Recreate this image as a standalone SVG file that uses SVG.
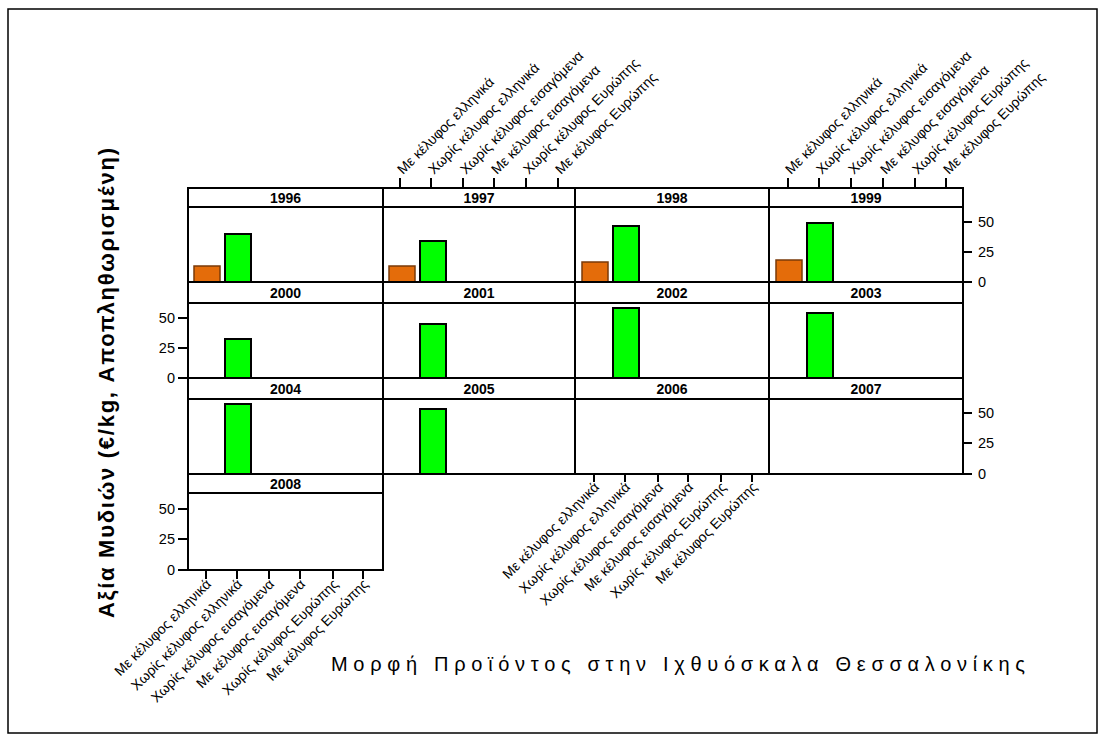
<svg xmlns="http://www.w3.org/2000/svg" width="1104" height="740" viewBox="0 0 1104 740">
<style>
text{font-family:"Liberation Sans",Arial,sans-serif;fill:#000}
.frame{fill:#fff;stroke:#000;stroke-width:1.5}
.hdr{fill:#fff;stroke:#000;stroke-width:2}
.plot{fill:#fff;stroke:#000;stroke-width:2}
.ht{font-size:14px;font-weight:bold;text-anchor:middle}
.tick{stroke:#000;stroke-width:2}
.yr{font-size:14.5px;text-anchor:start}
.yle{font-size:14.5px;text-anchor:end}
.cat{font-size:14px}
.catb{font-size:14px;text-anchor:end}
.o{fill:#E46C0A;stroke:#7a3a08;stroke-width:1.5}
.g{fill:#00FF00;stroke:#000;stroke-width:2}
.title{font-size:22px;font-weight:bold}
.xt{font-size:20px}
</style>
<rect class="frame" x="8" y="9" width="1089" height="724"/>

<g id="panel-1996">
<rect class="plot" x="188" y="207" width="195" height="75"/>
<rect class="hdr" x="188" y="188" width="195" height="19"/>
<text class="ht" x="285.5" y="203">1996</text>
<rect class="o" x="194" y="266" width="26" height="16"/>
<rect class="g" x="225" y="234" width="26" height="48"/>
</g>
<g id="panel-1997">
<rect class="plot" x="383" y="207" width="192" height="75"/>
<rect class="hdr" x="383" y="188" width="192" height="19"/>
<text class="ht" x="479" y="203">1997</text>
<rect class="o" x="389" y="266" width="26" height="16"/>
<rect class="g" x="420" y="241" width="26" height="41"/>
</g>
<g id="panel-1998">
<rect class="plot" x="575" y="207" width="194" height="75"/>
<rect class="hdr" x="575" y="188" width="194" height="19"/>
<text class="ht" x="672" y="203">1998</text>
<rect class="o" x="582" y="262" width="26" height="20"/>
<rect class="g" x="613" y="226" width="26" height="56"/>
</g>
<g id="panel-1999">
<rect class="plot" x="769" y="207" width="194" height="75"/>
<rect class="hdr" x="769" y="188" width="194" height="19"/>
<text class="ht" x="866" y="203">1999</text>
<rect class="o" x="776" y="260" width="26" height="22"/>
<rect class="g" x="807" y="223" width="26" height="59"/>
</g>

<g id="panel-2000">
<rect class="plot" x="188" y="303" width="195" height="75"/>
<rect class="hdr" x="188" y="282" width="195" height="21"/>
<text class="ht" x="285.5" y="298">2000</text>
<rect class="g" x="225" y="339" width="26" height="39"/>
</g>
<g id="panel-2001">
<rect class="plot" x="383" y="303" width="192" height="75"/>
<rect class="hdr" x="383" y="282" width="192" height="21"/>
<text class="ht" x="479" y="298">2001</text>
<rect class="g" x="420" y="324" width="26" height="54"/>
</g>
<g id="panel-2002">
<rect class="plot" x="575" y="303" width="194" height="75"/>
<rect class="hdr" x="575" y="282" width="194" height="21"/>
<text class="ht" x="672" y="298">2002</text>
<rect class="g" x="613" y="308" width="26" height="70"/>
</g>
<g id="panel-2003">
<rect class="plot" x="769" y="303" width="194" height="75"/>
<rect class="hdr" x="769" y="282" width="194" height="21"/>
<text class="ht" x="866" y="298">2003</text>
<rect class="g" x="807" y="313" width="26" height="65"/>
</g>

<g id="panel-2004">
<rect class="plot" x="188" y="399" width="195" height="75"/>
<rect class="hdr" x="188" y="378" width="195" height="21"/>
<text class="ht" x="285.5" y="394">2004</text>
<rect class="g" x="225" y="404" width="26" height="70"/>
</g>
<g id="panel-2005">
<rect class="plot" x="383" y="399" width="192" height="75"/>
<rect class="hdr" x="383" y="378" width="192" height="21"/>
<text class="ht" x="479" y="394">2005</text>
<rect class="g" x="420" y="409" width="26" height="65"/>
</g>
<g id="panel-2006">
<rect class="plot" x="575" y="399" width="194" height="75"/>
<rect class="hdr" x="575" y="378" width="194" height="21"/>
<text class="ht" x="672" y="394">2006</text>
</g>
<g id="panel-2007">
<rect class="plot" x="769" y="399" width="194" height="75"/>
<rect class="hdr" x="769" y="378" width="194" height="21"/>
<text class="ht" x="866" y="394">2007</text>
</g>

<g id="panel-2008">
<rect class="plot" x="188" y="493" width="195" height="77"/>
<rect class="hdr" x="188" y="474" width="195" height="19"/>
<text class="ht" x="285.5" y="489">2008</text>
</g>

<g id="y-axes">
<path class="tick" d="M963 222h9M963 252h9M963 282h9"/>
<text class="yr" x="978" y="227">50</text>
<text class="yr" x="978" y="257">25</text>
<text class="yr" x="978" y="287">0</text>
<path class="tick" d="M178 318h10M178 348h10M178 378h10"/>
<text class="yle" x="175" y="323">50</text>
<text class="yle" x="175" y="353">25</text>
<text class="yle" x="175" y="383">0</text>
<path class="tick" d="M963 413h9M963 443h9M963 474h9"/>
<text class="yr" x="978" y="418">50</text>
<text class="yr" x="978" y="448">25</text>
<text class="yr" x="978" y="479">0</text>
<path class="tick" d="M178 509h10M178 539h10M178 570h10"/>
<text class="yle" x="175" y="514">50</text>
<text class="yle" x="175" y="544">25</text>
<text class="yle" x="175" y="575">0</text>
</g>

<g id="x-axis-top-1997">
<path class="tick" d="M400 178v10M431 178v10M463 178v10M494 178v10M526 178v10M558 178v10"/>
<text class="cat" transform="translate(403,175) rotate(-45)">Με κέλυφος ελληνικά</text>
<text class="cat" transform="translate(434,175) rotate(-45)">Χωρίς κέλυφος ελληνικά</text>
<text class="cat" transform="translate(466,175) rotate(-45)">Χωρίς κέλυφος εισαγόμενα</text>
<text class="cat" transform="translate(497,175) rotate(-45)">Με κέλυφος εισαγόμενα</text>
<text class="cat" transform="translate(529,175) rotate(-45)">Χωρίς κέλυφος Ευρώπης</text>
<text class="cat" transform="translate(561,175) rotate(-45)">Με κέλυφος Ευρώπης</text>
</g>
<g id="x-axis-top-1999">
<path class="tick" d="M788 178v10M819 178v10M851 178v10M883 178v10M915 178v10M946 178v10"/>
<text class="cat" transform="translate(791,175) rotate(-45)">Με κέλυφος ελληνικά</text>
<text class="cat" transform="translate(822,175) rotate(-45)">Χωρίς κέλυφος ελληνικά</text>
<text class="cat" transform="translate(854,175) rotate(-45)">Χωρίς κέλυφος εισαγόμενα</text>
<text class="cat" transform="translate(886,175) rotate(-45)">Με κέλυφος εισαγόμενα</text>
<text class="cat" transform="translate(918,175) rotate(-45)">Χωρίς κέλυφος Ευρώπης</text>
<text class="cat" transform="translate(949,175) rotate(-45)">Με κέλυφος Ευρώπης</text>
</g>
<g id="x-axis-bottom-2006">
<path class="tick" d="M594 474v8M625 474v8M658 474v8M688 474v8M721 474v8M752 474v8"/>
<text class="catb" transform="translate(600,488) rotate(-45)">Με κέλυφος ελληνικά</text>
<text class="catb" transform="translate(631,488) rotate(-45)">Χωρίς κέλυφος ελληνικά</text>
<text class="catb" transform="translate(664,488) rotate(-45)">Χωρίς κέλυφος εισαγόμενα</text>
<text class="catb" transform="translate(694,488) rotate(-45)">Με κέλυφος εισαγόμενα</text>
<text class="catb" transform="translate(727,488) rotate(-45)">Χωρίς κέλυφος Ευρώπης</text>
<text class="catb" transform="translate(758,488) rotate(-45)">Με κέλυφος Ευρώπης</text>
</g>
<g id="x-axis-bottom-2008">
<path class="tick" d="M206 570v9M237 570v9M269 570v9M300 570v9M333 570v9M363 570v9"/>
<text class="catb" transform="translate(212,585) rotate(-45)">Με κέλυφος ελληνικά</text>
<text class="catb" transform="translate(243,585) rotate(-45)">Χωρίς κέλυφος ελληνικά</text>
<text class="catb" transform="translate(275,585) rotate(-45)">Χωρίς κέλυφος εισαγόμενα</text>
<text class="catb" transform="translate(306,585) rotate(-45)">Με κέλυφος εισαγόμενα</text>
<text class="catb" transform="translate(339,585) rotate(-45)">Χωρίς κέλυφος Ευρώπης</text>
<text class="catb" transform="translate(369,585) rotate(-45)">Με κέλυφος Ευρώπης</text>
</g>

<text class="title" transform="translate(114,618) rotate(-90)" textLength="470" lengthAdjust="spacing">Αξία Μυδιών (€/kg, Αποπληθωρισμένη)</text>
<text class="xt" x="331" y="671" textLength="694" lengthAdjust="spacing">Μορφή Προϊόντος στην Ιχθυόσκαλα Θεσσαλονίκης</text>
</svg>
